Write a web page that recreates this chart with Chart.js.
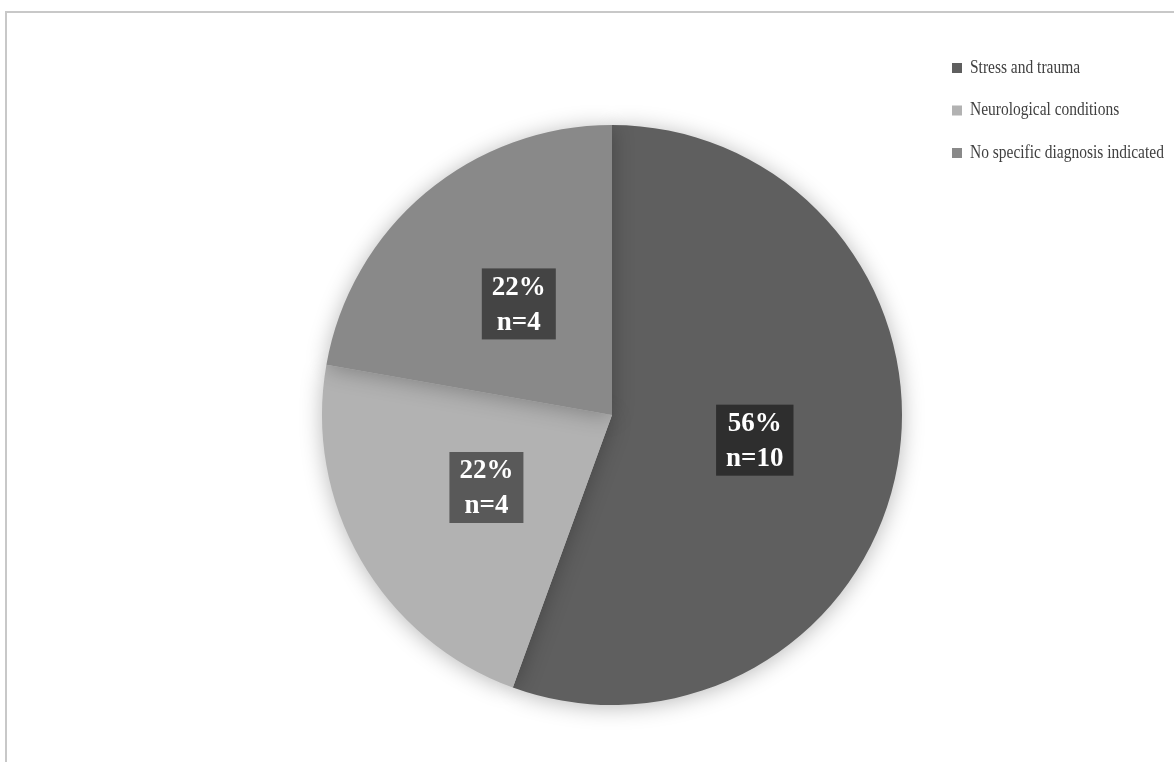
<!DOCTYPE html>
<html>
<head>
<meta charset="utf-8">
<script src="https://cdn.jsdelivr.net/npm/chart.js@4"></script>
<style>
    html, body { margin: 0; padding: 0; overflow: hidden; background: #fff; }
    #frame {
        position: absolute; left: 5px; top: 11px; width: 1300px; height: 900px;
        border: 2px solid #c8c8c8; box-sizing: border-box;
    }
    #wrap { position: absolute; left: 0; top: 0; width: 1174px; height: 762px; }
</style>
</head>
<body>
<div id="frame"></div>
<div id="wrap"><canvas id="pie-chart"></canvas></div>
<script>
const categories = ['Stress and trauma', 'Neurological conditions', 'No specific diagnosis indicated'];
const counts = [10, 4, 4];
const percentLabels = ['56%', '22%', '22%'];
const sliceColors = ['#5f5f5f', '#b2b2b2', '#898989'];
const boxColors = ['#2e2e2e', '#595959', '#444444'];

const serif = '"Liberation Serif", "DejaVu Serif", serif';

// soft shadow behind the pie
const shadowPlugin = {
    id: 'pieShadow',
    beforeDatasetsDraw(chart) {
        const ctx = chart.ctx;
        ctx.save();
        ctx.shadowColor = 'rgba(0, 0, 0, 0.28)';
        ctx.shadowBlur = 22;
        ctx.shadowOffsetX = 0;
        ctx.shadowOffsetY = 2;
    },
    afterDatasetsDraw(chart) {
        chart.ctx.restore();
    }
};

// boxed "xx% / n=y" labels and the legend on the right
const labelPlugin = {
    id: 'boxLabels',
    afterDraw(chart) {
        const ctx = chart.ctx;
        const meta = chart.getDatasetMeta(0);
        ctx.save();
        ctx.shadowColor = 'transparent';
        meta.data.forEach((arc, i) => {
            const pos = arc.tooltipPosition();
            const line1 = percentLabels[i];
            const line2 = 'n=' + counts[i];
            ctx.font = 'bold 27px ' + serif;
            const w = Math.max(ctx.measureText(line1).width, ctx.measureText(line2).width) + 20;
            const h = 71;
            ctx.fillStyle = boxColors[i];
            ctx.fillRect(pos.x - w / 2, pos.y - h / 2, w, h);
            ctx.fillStyle = '#ffffff';
            ctx.textAlign = 'center';
            ctx.textBaseline = 'middle';
            ctx.fillText(line1, pos.x, pos.y - 16);
            ctx.fillText(line2, pos.x, pos.y + 19);
        });

        // legend text is narrower in the original (Cambria), so squeeze it a bit
        ctx.font = '18px ' + serif;
        ctx.textAlign = 'left';
        ctx.textBaseline = 'middle';
        categories.forEach((name, i) => {
            const y = 68 + i * 42.5;
            ctx.fillStyle = sliceColors[i];
            ctx.fillRect(952, y - 5, 10, 10);
            ctx.save();
            ctx.translate(970, y);
            ctx.scale(0.86, 1);
            ctx.fillStyle = '#404040';
            ctx.fillText(name, 0, 0);
            ctx.restore();
        });
        ctx.restore();
    }
};

const ctx = document.getElementById('pie-chart').getContext('2d');
new Chart(ctx, {
    type: 'pie',
    data: {
        labels: categories,
        datasets: [{
            data: counts,
            backgroundColor: sliceColors,
            borderWidth: 0,
            hoverOffset: 0
        }]
    },
    options: {
        responsive: true,
        maintainAspectRatio: false,
        animation: false,
        layout: {
            padding: { top: 125, bottom: 57, left: 300, right: 250 }
        },
        plugins: {
            legend: { display: false },
            tooltip: { enabled: false }
        }
    },
    plugins: [shadowPlugin, labelPlugin]
});
</script>
</body>
</html>
